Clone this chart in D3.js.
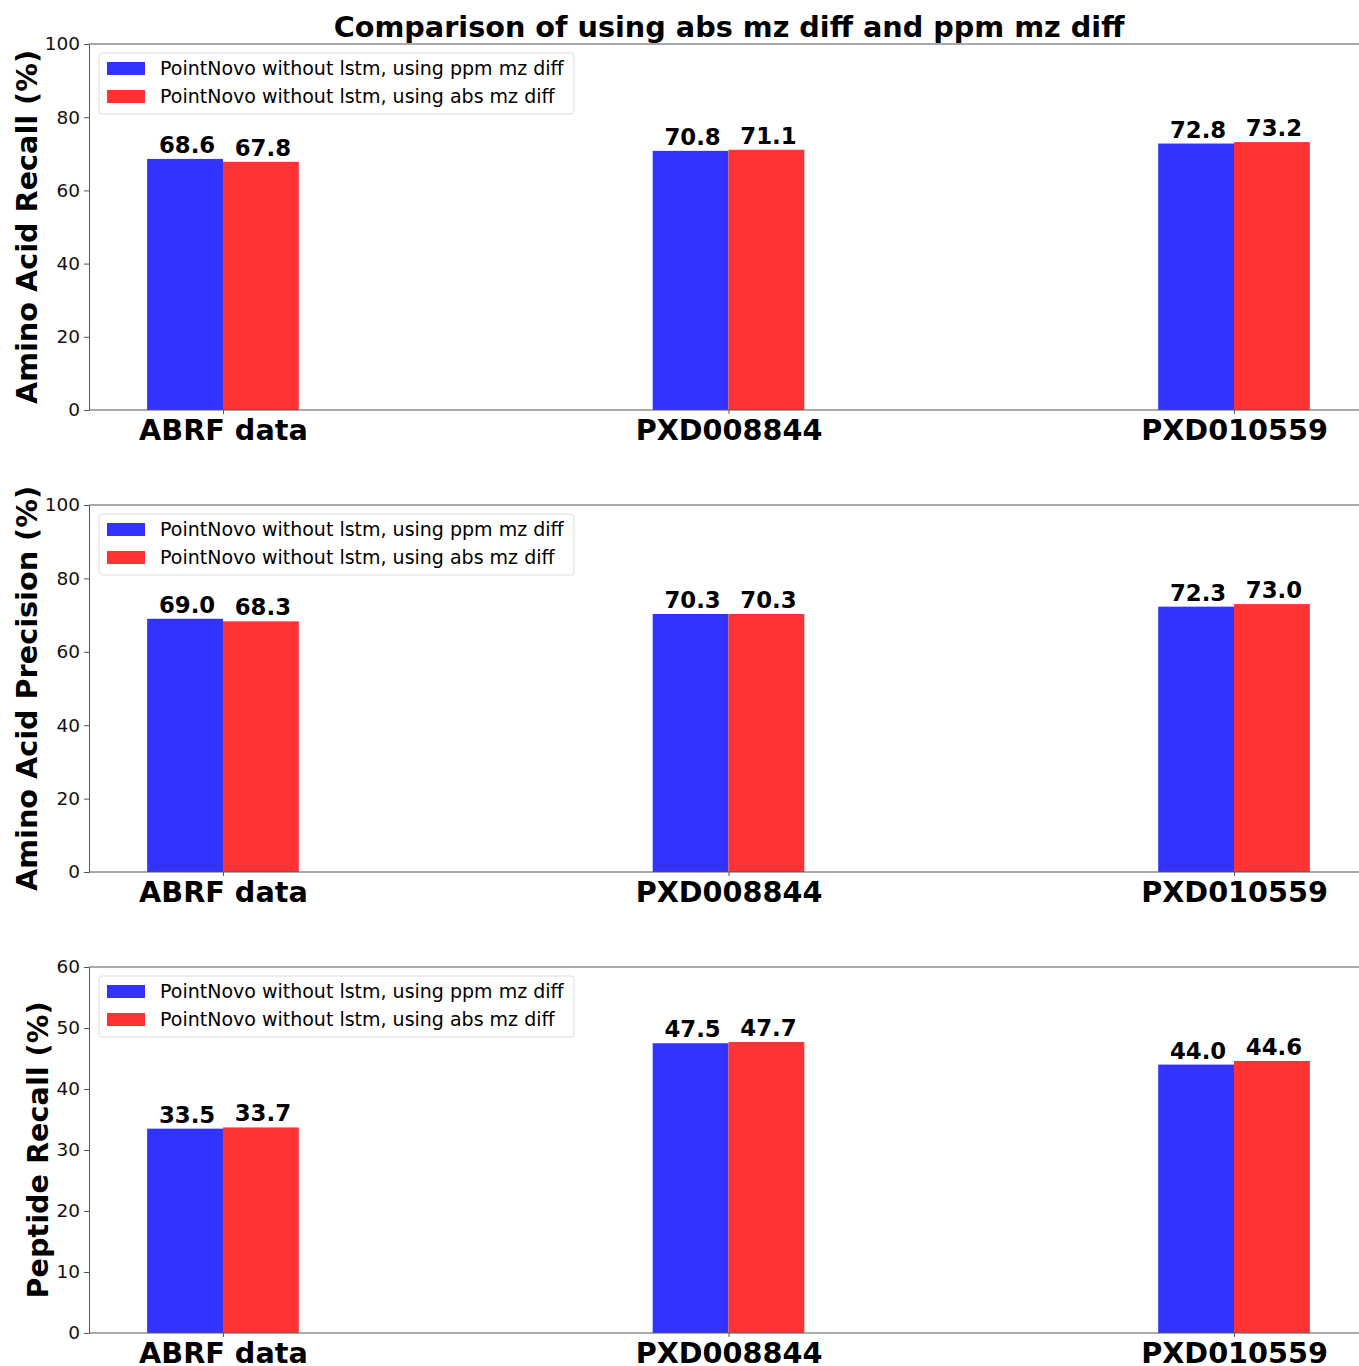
<!DOCTYPE html>
<html>
<head>
<meta charset="utf-8">
<title>Comparison of using abs mz diff and ppm mz diff</title>
<script src="https://cdn.jsdelivr.net/npm/d3@7"></script>
<style>
  html, body { margin: 0; background: #fff; }
  svg { display: block; font-family: "DejaVu Sans", sans-serif; }
  .axis path, .axis line { stroke: #555; }
  .axis text { font-family: "DejaVu Sans", sans-serif; font-size: 18.5px; fill: #111; }
  .axis text.cat { font-size: 28.7px; font-weight: bold; fill: #000; }
</style>
</head>
<body>
<svg width="1359" height="1366"></svg>
<script>
// data
var categories = ["ABRF data", "PXD008844", "PXD010559"];
var seriesNames = ["PointNovo without lstm, using ppm mz diff", "PointNovo without lstm, using abs mz diff"];
var seriesColors = ["#3333ff", "#ff3333"];

var aaRecallPpm = [68.6, 70.8, 72.8];
var aaRecallAbs = [67.8, 71.1, 73.2];
var aaPrecisionPpm = [69.0, 70.3, 72.3];
var aaPrecisionAbs = [68.3, 70.3, 73.0];
var pepRecallPpm = [33.5, 47.5, 44.0];
var pepRecallAbs = [33.7, 47.7, 44.6];

var panelLabels = ["Amino Acid Recall (%)", "Amino Acid Precision (%)", "Peptide Recall (%)"];
var panelMax = [100, 100, 60];
var panelTicks = [[0, 20, 40, 60, 80, 100], [0, 20, 40, 60, 80, 100], [0, 10, 20, 30, 40, 50, 60]];

var panels = [
  {label: panelLabels[0], max: panelMax[0], ticks: panelTicks[0], series: [aaRecallPpm, aaRecallAbs], top: 44, bottom: 410, labelX: 27},
  {label: panelLabels[1], max: panelMax[1], ticks: panelTicks[1], series: [aaPrecisionPpm, aaPrecisionAbs], top: 505, bottom: 872, labelX: 27},
  {label: panelLabels[2], max: panelMax[2], ticks: panelTicks[2], series: [pepRecallPpm, pepRecallAbs], top: 967, bottom: 1333, labelX: 38}
];

var svg = d3.select("svg");
var left = 89, right = 1368;
var barW = 0.15;

var x = d3.scaleLinear().domain([-0.265, 2.265]).range([left, right]);

svg.append("text")
    .attr("x", 729)
    .attr("y", 37)
    .attr("text-anchor", "middle")
    .style("font-size", "28.7px")
    .style("font-weight", "bold")
    .text("Comparison of using abs mz diff and ppm mz diff");

panels.forEach(function(p) {
  var y = d3.scaleLinear().domain([0, p.max]).range([p.bottom, p.top]);
  var g = svg.append("g");

  // top spine
  g.append("line").attr("x1", left).attr("x2", right).attr("y1", p.top).attr("y2", p.top)
      .attr("stroke", "#555").attr("stroke-width", 1.2);

  g.append("g")
      .attr("class", "axis")
      .attr("transform", "translate(" + left + ",0)")
      .call(d3.axisLeft(y).tickValues(p.ticks).tickSize(5).tickPadding(4).tickSizeOuter(0));

  // bars
  p.series.forEach(function(vals, si) {
    var off = si === 0 ? -barW : 0;
    g.selectAll(".bar" + si)
      .data(vals)
      .enter().append("rect")
        .attr("x", function(d, i) { return x(i + off); })
        .attr("width", x(barW) - x(0))
        .attr("y", function(d) { return y(d); })
        .attr("height", function(d) { return y(0) - y(d); })
        .attr("fill", seriesColors[si]);

    g.selectAll(".val" + si)
      .data(vals)
      .enter().append("text")
        .attr("x", function(d, i) { return x(i + off + barW / 2) + 2; })
        .attr("y", function(d) { return y(d) - 6; })
        .attr("text-anchor", "middle")
        .style("font-size", "22.8px")
        .style("font-weight", "bold")
        .text(function(d) { return d.toFixed(1); });
  });

  var xAxis = g.append("g")
      .attr("class", "axis")
      .attr("transform", "translate(0," + p.bottom + ")")
      .call(d3.axisBottom(x).tickValues([0, 1, 2]).tickSize(4).tickSizeOuter(0)
        .tickFormat(function(d) { return categories[d]; }));
  xAxis.select(".domain").attr("d", "M" + left + ",0H" + right);
  xAxis.selectAll("text")
      .attr("class", "cat")
      .attr("dy", 0)
      .attr("y", 30);

  g.append("text")
      .attr("transform", "translate(" + p.labelX + "," + ((p.top + p.bottom) / 2) + ") rotate(-90)")
      .attr("text-anchor", "middle")
      .attr("dy", "0.35em")
      .style("font-size", "28.7px")
      .style("font-weight", "bold")
      .text(p.label);

  // legend
  var lg = g.append("g").attr("transform", "translate(99," + (p.top + 9) + ")");
  lg.append("rect").attr("width", 475).attr("height", 61).attr("rx", 3)
      .attr("fill", "#fff").attr("stroke", "#ddd");
  seriesNames.forEach(function(name, i) {
    lg.append("rect").attr("x", 8).attr("y", 9 + i * 28).attr("width", 38).attr("height", 13)
        .attr("fill", seriesColors[i]);
    lg.append("text").attr("x", 61).attr("y", 22 + i * 28)
        .style("font-size", "19px").text(name);
  });
});
</script>
</body>
</html>
